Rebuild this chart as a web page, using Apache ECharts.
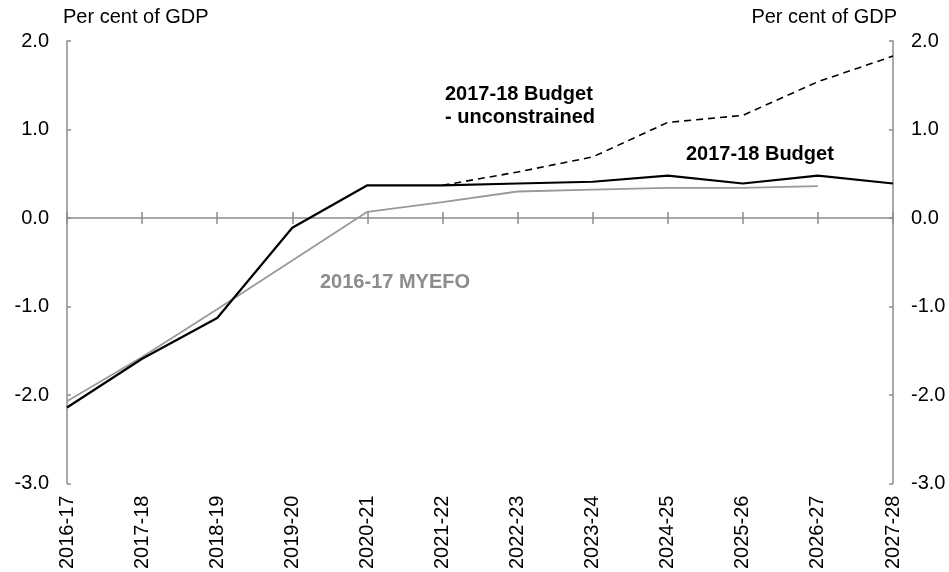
<!DOCTYPE html>
<html lang="en">
<head>
  <meta charset="UTF-8" />
  <title>Budget balance projections</title>
  <script src="https://cdn.jsdelivr.net/npm/echarts@6.0.0/dist/echarts.min.js"></script>
  <style>
    html, body { margin: 0; padding: 0; background: #fff; }
  </style>
</head>
<body>
  <div id="main" style="width: 949px; height: 572px;"></div>

  <script>
    // financial years on the x axis
    const years = [
      "2016-17", "2017-18", "2018-19", "2019-20", "2020-21", "2021-22",
      "2022-23", "2023-24", "2024-25", "2025-26", "2026-27", "2027-28"
    ];
    // 2017-18 Budget (per cent of GDP)
    const budget = [-2.14, -1.59, -1.13, -0.11, 0.37, 0.37, 0.39, 0.41, 0.48, 0.39, 0.48, 0.39];
    // 2017-18 Budget - unconstrained, starts in 2021-22
    const unconstrained = [null, null, null, null, null, 0.37, 0.52, 0.69, 1.08, 1.16, 1.54, 1.83];
    // 2016-17 MYEFO, ends in 2026-27
    const myefo = [-2.07, -1.57, -1.03, -0.48, 0.07, 0.18, 0.30, 0.32, 0.34, 0.34, 0.36, null];
    const yTicks = [-3, -2, -1, 0, 1, 2];

    const font = "Arial, 'Liberation Sans', sans-serif";
    const axisGrey = "#8c8c8c";

    const myChart = echarts.init(document.getElementById("main"));

    const yAxisBase = {
      type: "value",
      min: yTicks[0],
      max: yTicks[yTicks.length - 1],
      interval: 1,
      splitLine: { show: false },
      axisLine: { show: true, lineStyle: { color: axisGrey, width: 1.5 } },
      axisTick: { show: true, inside: true, length: 4, lineStyle: { color: axisGrey, width: 1.5 } },
      axisLabel: {
        margin: 18,
        fontSize: 20,
        color: "#000",
        fontFamily: font,
        formatter: (v) => v.toFixed(1),
      },
    };

    const option = {
      animation: false,
      grid: { left: 67, right: 56, top: 41, bottom: 88, containLabel: false },
      xAxis: [
        {
          // the line at zero, ticks below it
          type: "category",
          data: years,
          boundaryGap: false,
          position: "bottom",
          axisLine: { onZero: true, onZeroAxisIndex: 0, lineStyle: { color: axisGrey, width: 1.5 } },
          axisTick: { show: true, interval: 0, length: 6, lineStyle: { color: axisGrey, width: 1.5 } },
          axisLabel: { show: false },
        },
        {
          // same line, ticks above it
          type: "category",
          data: years,
          boundaryGap: false,
          position: "bottom",
          axisLine: { show: false, onZero: true, onZeroAxisIndex: 0 },
          axisTick: { show: true, inside: true, interval: 0, length: 6, lineStyle: { color: axisGrey, width: 1.5 } },
          axisLabel: { show: false },
        },
        {
          // labels at the bottom of the plot
          type: "category",
          data: years,
          boundaryGap: false,
          position: "bottom",
          axisLine: { show: false, onZero: false },
          axisTick: { show: false },
          axisLabel: {
            interval: 0,
            rotate: 90,
            margin: 12,
            fontSize: 20,
            color: "#000",
            fontFamily: font,
          },
        },
      ],
      yAxis: [
        Object.assign({}, yAxisBase, { position: "left" }),
        Object.assign({}, yAxisBase, { position: "right" }),
      ],
      series: [
        {
          name: "2016-17 MYEFO",
          type: "line",
          data: myefo,
          symbol: "none",
          lineStyle: { color: "#999999", width: 1.8 },
          z: 2,
        },
        {
          name: "2017-18 Budget - unconstrained",
          type: "line",
          data: unconstrained,
          symbol: "none",
          lineStyle: { color: "#000", width: 1.6, type: [7, 5] },
          z: 3,
        },
        {
          name: "2017-18 Budget",
          type: "line",
          data: budget,
          symbol: "none",
          lineStyle: { color: "#000", width: 2.2 },
          z: 4,
        },
      ],
      graphic: [
        {
          type: "text", left: 63, top: 7,
          style: { text: "Per cent of GDP", font: "20px " + font, fill: "#000" },
        },
        {
          type: "text", right: 52, top: 7,
          style: { text: "Per cent of GDP", font: "20px " + font, fill: "#000" },
        },
        {
          type: "text", left: 445, top: 83,
          style: { text: "2017-18 Budget\n- unconstrained", font: "bold 20px " + font, fill: "#000", lineHeight: 23 },
        },
        {
          type: "text", left: 686, top: 144,
          style: { text: "2017-18 Budget", font: "bold 20px " + font, fill: "#000" },
        },
        {
          type: "text", left: 320, top: 272,
          style: { text: "2016-17 MYEFO", font: "bold 20px " + font, fill: "#8c8c8c" },
        },
      ],
    };

    myChart.setOption(option);
  </script>
</body>
</html>
